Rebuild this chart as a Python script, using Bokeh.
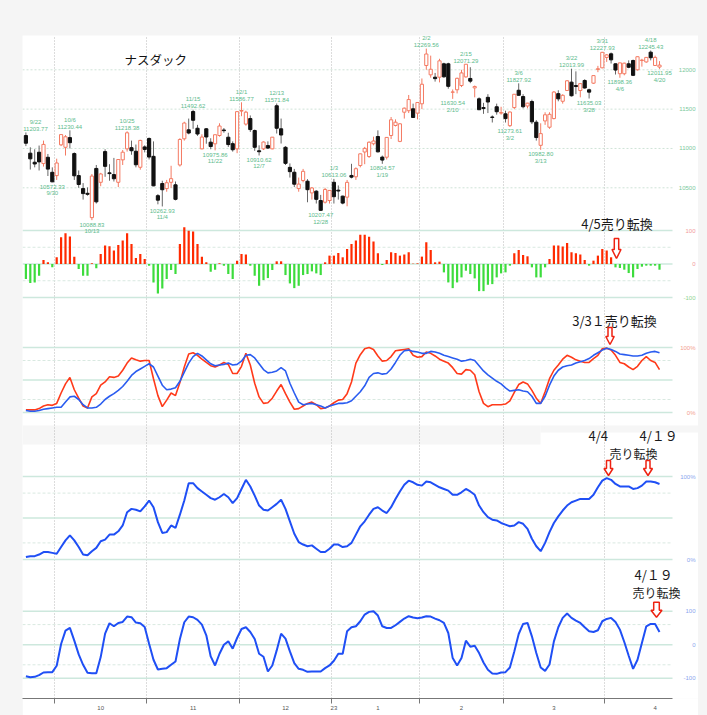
from bokeh.plotting import figure
from bokeh.models import Range1d, FixedTicker, BoxAnnotation, Spacer, ColumnDataSource
from bokeh.layouts import column, row
from bokeh.embed import file_html
from bokeh.resources import INLINE
from bokeh.core.properties import value

# ---------------- data (Nasdaq composite, daily, 2022-09-22 .. 2023-04-20) ----------------
opens = [11164, 10940, 10825, 10952, 10808, 10888, 10697,
         10655, 11046, 11015, 11138, 10935, 10655, 10490, 10430, 10121, 10746, 10570, 10960, 10690, 10668, 10570, 10855, 10995, 11010, 10965, 10761, 11020,
         11127, 10900, 10400, 10554, 10490, 10570, 10538, 10790, 11123, 11237, 11470, 11257, 10995, 11250, 11080, 11059, 11165, 11235, 11143, 11061, 10995,
         11475, 11310, 11380, 11228, 10970, 10995, 11037, 10995, 11543, 11250, 11015, 10760, 10698, 10490, 10593, 10584, 10435, 10457, 10338, 10317, 10338,
         10570, 10470, 10394, 10381, 10657, 10640, 10783, 10955, 10898, 11060, 11152, 10890, 10889, 11165, 11292, 11090, 11461, 11480, 11504, 11449,
         11568, 12055, 11936, 11906, 11906, 12076, 12076, 11715, 11746, 11800, 11910, 11890, 11770, 11631, 11520, 11650, 11400, 11530, 11450,
         11440, 11290, 11520, 11740, 11660, 11540, 11597, 11334, 11040, 11350, 11270, 11380, 11697, 11600, 11737, 11843, 11800, 11737, 11864, 11746, 11830, 12005, 12025,
         12157, 12203, 12076, 11950, 11950, 12076, 12118, 12000, 12118, 12100, 12224, 12055, 12035]
highs = [11203.77, 11015, 10990, 11037, 11100, 10930, 10760,
         10870, 11182, 11170, 11230.44, 10950, 10720, 10560, 10505, 10675, 10790, 10690, 10990, 10800, 10880, 10860, 10980, 11218.38, 11100, 11050, 11110, 11040,
         11140, 11090, 10420, 10590, 10600, 10780, 10580, 11130, 11340, 11380, 11492.62, 11300, 11180, 11260, 11130, 11175, 11320, 11260, 11200, 11090, 11470,
         11586.77, 11480, 11420, 11240, 11040, 11090, 11090, 11145, 11571.84, 11380, 11030, 10810, 10740, 10630, 10740, 10610, 10510, 10470, 10410, 10500, 10470,
         10613.06, 10530, 10400, 10600, 10805, 10760, 10935, 11020, 11090, 11150, 11230, 10910, 11145, 11400, 11370, 11320, 11520, 11680, 11570, 11590,
         11890, 12269.56, 12180, 11960, 12140, 12090, 12090, 11750, 11900, 12000, 12071.29, 12033, 11800, 11650, 11580, 11690, 11420, 11570, 11530,
         11480, 11470, 11690, 11827.92, 11690, 11580, 11620, 11360, 11320, 11460, 11460, 11730, 11740, 11690, 11870, 12013.99, 11980, 11830, 11880, 11760, 11930, 12050, 12227.93,
         12200, 12220, 12080, 12090, 12090, 12120, 12130, 12170, 12140, 12160, 12245.43, 12180, 12110]
lows = [11030, 10732, 10760, 10720, 10770, 10650, 10572.33,
        10600, 11030, 10910, 11000, 10600, 10500, 10350, 10400, 10088.83, 10300, 10520, 10640, 10590, 10580, 10510, 10790, 10960, 10920, 10760, 10730, 10950,
        10860, 10520, 10290, 10262.93, 10450, 10500, 10340, 10770, 11100, 11180, 11250, 11160, 10990, 11060, 10990, 10975.86, 11150, 11200, 11020, 10960, 10940,
        11410, 11290, 11210, 10970, 10910.62, 10980, 10995, 10990, 11190, 11063, 10790, 10630, 10510, 10450, 10570, 10316, 10350, 10300, 10207.47, 10300, 10300,
        10300, 10350, 10290, 10265, 10620, 10600, 10760, 10800, 10880, 11040, 10950, 10804.57, 10860, 11120, 11280, 11080, 11380, 11450, 11390, 11370,
        11500, 12000, 11900, 11850, 11840, 11900, 11760, 11630.54, 11700, 11780, 11900, 11830, 11650, 11490, 11440, 11450, 11330, 11430, 11430,
        11330, 11273.61, 11500, 11670, 11510, 11510, 11310, 11100, 10982.80, 11300, 11250, 11370, 11600, 11570, 11730, 11660, 11690, 11650, 11760, 11635.03, 11820, 11970, 12020,
        12100, 12080, 11940, 11898.36, 11930, 12020, 11920, 11990, 12040, 12090, 12120, 12050, 12011.95]
closes = [11066.81, 10867.93, 10802.92, 10829.50, 11051.64, 10737.51, 10575.62,
          10815.43, 11176.41, 11148.64, 11073.31, 10652.41, 10542.10, 10426.19, 10417.10, 10649.15, 10321.39, 10675.80, 10772.40, 10680.51, 10614.84, 10859.72, 10952.61, 11199.12, 10970.99, 10792.68, 11102.45, 10988.15,
          10890.85, 10524.80, 10342.94, 10475.25, 10564.52, 10616.20, 10353.17, 11114.15, 11323.33, 11196.22, 11358.41, 11183.66, 11144.96, 11146.06, 11024.51, 11174.41, 11285.32, 11226.36, 11049.50, 10983.78, 11468.00,
          11482.45, 11461.50, 11239.94, 11014.89, 10958.55, 11082.00, 11004.62, 11143.74, 11256.81, 11170.89, 10810.53, 10705.41, 10546.03, 10547.11, 10709.37, 10476.12, 10497.86, 10353.23, 10213.29, 10478.09, 10466.48,
          10386.98, 10458.76, 10305.24, 10569.29, 10635.65, 10742.63, 10931.67, 11001.10, 11079.16, 11095.11, 10957.01, 10852.27, 11140.43, 11364.41, 11334.27, 11313.36, 11512.41, 11621.71, 11393.81, 11584.55,
          11816.32, 12200.82, 12006.95, 11887.45, 12113.79, 11910.52, 11789.58, 11718.12, 11891.79, 11960.15, 12070.59, 11855.83, 11787.27, 11492.30, 11507.07, 11590.40, 11394.94, 11466.98, 11455.54,
          11379.48, 11462.98, 11689.01, 11675.74, 11530.33, 11576.00, 11338.36, 11138.89, 11188.84, 11428.15, 11434.05, 11717.28, 11630.51, 11675.54, 11860.11, 11669.96, 11787.40, 11823.96, 11768.84, 11716.08, 11926.24, 12013.47, 12221.91,
          12189.45, 12126.33, 11996.86, 12087.96, 12084.36, 12031.88, 11929.34, 12166.27, 12123.47, 12157.72, 12153.41, 12157.23, 12059.56]

hist = [-45, -57, -55, -35, 12, 5, -10, 20, 80, 92, 82, 22, -15, -35, -35, 2, -13, 30, 55, 53, 40, 57, 70, 92, 60, 18, 30, 15,
        -5, -55, -88, -73, -45, -18, -30, 60, 110, 99, 97, 60, 22, 5, -23, -17, 2, -5, -30, -45, 10,
        30, 28, -5, -35, -65, -48, -42, -18, 8, 8, -33, -58, -72, -65, -33, -30, -22, -28, -33, 5, 25,
        25, 33, 20, 45, 60, 70, 87, 87, 81, 67, 32, -3, 12, 35, 33, 25, 28, 35, 1, 2,
        22, 65, 42, 5, 7, -25, -55, -72, -55, -40, -20, -30, -43, -81, -81, -62, -60, -40, -28,
        -25, -5, 32, 42, 27, 23, -10, -40, -40, -10, 15, 55, 55, 52, 63, 35, 32, 28, 12, -5, 10, 25, 45,
        40, 20, -10, -12, -17, -27, -40, -15, -8, -5, -5, -5, -17]

fast_k = [4, 4, 4, 6, 10, 12, 11, 14, 30, 44, 54, 35, 22, 10, 7, 24, 29, 42, 47, 55, 54, 56, 65, 76, 84, 81, 79, 80,
          80, 52, 26, 9, 19, 30, 26, 46, 70, 90, 92, 88, 82, 77, 72, 70, 73, 77, 74, 60, 60,
          71, 91, 73, 45, 24, 14, 15, 22, 33, 43, 29, 16, 5, 6, 10, 14, 16, 12, 6, 7, 10,
          15, 19, 20, 29, 47, 76, 89, 98, 100, 97, 87, 79, 80, 86, 95, 96, 97, 98, 88, 85,
          86, 93, 91, 87, 82, 79, 76, 69, 60, 59, 66, 65, 58, 32, 14, 9, 12, 12, 12,
          13, 18, 31, 43, 47, 44, 34, 22, 14, 32, 52, 65, 73, 82, 88, 85, 81, 79, 77, 77, 83, 88, 98,
          99, 96, 88, 77, 75, 70, 66, 71, 80, 86, 80, 77, 66]
slow_d = [3, 2, 2, 3, 5, 6, 7, 8, 8, 16, 24, 25, 20, 12, 7, 7, 8, 13, 20, 25, 29, 34, 40, 48, 57, 63, 67, 71,
          75, 70, 56, 42, 35, 36, 38, 48, 62, 76, 86, 91, 87, 81, 75, 72, 73, 74, 76, 73, 74,
          79, 88, 89, 84, 75, 66, 61, 62, 64, 69, 64, 45, 30, 16, 12, 13, 14, 12, 10, 7, 10,
          12, 14, 14, 15, 18, 25, 32, 41, 54, 60, 61, 59, 60, 67, 77, 88, 95, 96, 94, 93,
          91, 91, 94, 93, 91, 88, 86, 84, 82, 79, 80, 82, 80, 72, 64, 58, 53, 48, 44,
          38, 33, 34, 35, 33, 32, 25, 14, 14, 25, 42, 56, 65, 70, 72, 73, 76, 78, 80, 83, 88, 92, 96,
          99, 97, 94, 90, 89, 88, 87, 87, 88, 91, 93, 94, 92]
line4 = [3, 4, 4, 6, 9, 9, 8, 7, 15, 23, 29, 23, 15, 6, 5, 10, 14, 22, 24, 30, 30, 34, 41, 57, 61, 60, 58, 64,
         71, 63, 45, 32, 33, 41, 38, 54, 71, 92, 92, 86, 82, 78, 74, 72, 75, 79, 75, 68, 74,
         85, 96, 88, 77, 65, 60, 59, 63, 67, 72, 61, 46, 31, 21, 18, 16, 17, 13, 9, 9, 13,
         18, 18, 15, 16, 20, 30, 40, 46, 54, 61, 63, 59, 56, 63, 73, 82, 90, 95, 93, 90,
         89, 94, 93, 90, 87, 85, 83, 78, 78, 81, 85, 82, 78, 65, 57, 51, 48, 47, 44,
         42, 40, 41, 45, 43, 37, 25, 16, 10, 20, 33, 44, 52, 59, 65, 69, 71, 73, 73, 73, 78, 87, 95,
         98, 96, 91, 88, 88, 88, 85, 86, 89, 94, 94, 93, 91]
line5 = [-94, -97, -96, -91, -83, -82, -82, -63, 2, 42, 50, 12, -29, -60, -84, -85, -85, -37, 33, 64, 55, 65, 68, 84, 82, 66, 64, 53,
         3, -45, -74, -72, -70, -60, -50, 17, 67, 84, 82, 74, 60, 28, -35, -62, -27, 0, 10, -12, 20,
         47, 52, 38, 17, -27, -36, -80, -62, -17, 33, 18, -20, -55, -72, -75, -81, -80, -80, -80, -70, -62,
         -48, -27, -27, 40, 52, 55, 70, 90, 98, 100, 87, 55, 50, 50, 58, 68, 78, 85, 81, 79,
         81, 85, 84, 78, 73, 65, 35, -40, -62, -40, 12, -6, -3, -25, -53, -75, -86, -87, -83,
         -82, -68, -20, 32, 62, 65, 25, -25, -68, -78, -59, 10, 52, 80, 93, 80, 72, 65, 52, 40, 38, 43, 70,
         77, 80, 68, 45, 8, -33, -72, -45, 5, 55, 62, 62, 38]

# month boundaries / labels (in trading-day index)
month_bounds = [6.5, 27.5, 48.5, 69.5, 89.5, 108.5, 131.5]
month_label_pos = [17, 38, 59, 70, 80, 99, 120, 143]
month_labels = ["10", "11", "12", "23", "1", "2", "3", "4"]

# high / low annotations on the candles
hi_dates = ["9/22", "10/6", "10/25", "11/15", "12/1", "12/13", "1/3", "2/2", "2/15", "3/6", "3/22", "3/31", "4/18"]
hi_idx = [0, 10, 23, 38, 49, 57, 70, 91, 100, 112, 124, 131, 142]
lo_dates = ["9/30", "10/13", "11/4", "11/22", "12/7", "12/28", "1/19", "2/10", "3/2", "3/13", "3/28", "4/6", "4/20"]
lo_idx = [6, 15, 31, 43, 53, 67, 81, 97, 110, 117, 128, 135, 144]

price_ticks = [12000, 11500, 11000, 10500]
hist_ticks = [100, 0, -100]
pct_ticks = [100, 0]
r_ticks = [100, 0, -100]

# ---------------- layout (page pixels) ----------------
PAGE_W, PAGE_H = 707, 715
LEFT_PAD, TOP_PAD = 22, 35
FIG_W = 676
FIG_H = PAGE_H - TOP_PAD
BOTTOM_BORDER = 17
FRAME_TOP = TOP_PAD
FRAME_BOTTOM = PAGE_H - BOTTOM_BORDER
X0_PX, DAY_PX = 25.4, 4.4
GRID_RIGHT_PX = 672
LABEL_RIGHT_PX = 695
LABEL_HALF_W = 13

def xd(px):
    return (px - X0_PX) / DAY_PX

# value <-> page pixel calibration for every panel
calib = {
    "price": (12000, 69.3, 10500, 187.3),
    "hist": (100, 230.0, -100, 297.0),
    "k": (100, 347.0, 0, 412.0),
    "d": (100, 476.0, 0, 559.0),
    "r": (100, 610.7, -100, 677.7),
}
ranges = {}
for name, (va, pa, vb, pb) in calib.items():
    s = (pb - pa) / (va - vb)
    start = vb - (FRAME_BOTTOM - pb) / s
    end = start + (FRAME_BOTTOM - FRAME_TOP) / s
    ranges[name] = Range1d(start, end)

def yd(name, px):
    r = ranges[name]
    return r.start + (FRAME_BOTTOM - px) * (r.end - r.start) / (FRAME_BOTTOM - FRAME_TOP)

def rn(name):
    return {} if name == "price" else {"y_range_name": name}

n = len(closes)
idx = list(range(n))

p = figure(width=FIG_W, height=FIG_H,
           x_range=Range1d(xd(LEFT_PAD), xd(LEFT_PAD + FIG_W)),
           y_range=ranges["price"], y_axis_location=None,
           output_backend="svg", toolbar_location=None,
           min_border_left=0, min_border_right=0, min_border_top=0,
           min_border_bottom=BOTTOM_BORDER)
p.extra_y_ranges = {k: ranges[k] for k in ("hist", "k", "d", "r")}
p.outline_line_color = None
p.background_fill_color = "white"
p.border_fill_color = "white"
p.ygrid.visible = False
p.xgrid.ticker = FixedTicker(ticks=month_bounds)
p.xgrid.grid_line_color = "#b8b8b8"
p.xgrid.grid_line_dash = "1 2"
p.xgrid.grid_line_width = 1

# light gray gap band above the 4th panel
p.add_layout(BoxAnnotation(top=yd("d", 425), bottom=yd("d", 444), right=xd(540), y_range_name="d",
                           fill_color="#f6f6f6", fill_alpha=1, line_color=None, level="image"))
p.add_layout(BoxAnnotation(top=yd("d", 425), bottom=yd("d", 432), left=xd(540), y_range_name="d",
                           fill_color="#f6f6f6", fill_alpha=1, line_color=None, level="image"))

SOLID = "#cde8dd"
DASH = "#d9e9e1"

def hlines(levels, name, color, width, dash):
    m = len(levels)
    p.segment(x0=[xd(LEFT_PAD)] * m, x1=[xd(GRID_RIGHT_PX)] * m, y0=levels, y1=levels,
              line_color=color, line_width=width, line_dash=dash, **rn(name))

hlines(price_ticks, "price", "#cfe3d7", 1, "2 2")
hlines([100, 0, -100], "hist", SOLID, 1.6, "solid")
hlines([50, -50], "hist", DASH, 1, "3 2")
hlines([100, 50, 0], "k", SOLID, 1.6, "solid")
hlines([80, 20], "k", DASH, 1, "3 2")
hlines([100, 50, 0], "d", SOLID, 1.6, "solid")
hlines([80, 20], "d", DASH, 1, "3 2")
hlines([100, 0, -100], "r", SOLID, 1.6, "solid")
hlines([60, -60], "r", DASH, 1, "3 2")

# ---------------- candles ----------------
UP = "#f47a62"
up = [c >= o for o, c in zip(opens, closes)]
src = ColumnDataSource(dict(
    x=idx, h=highs, l=lows,
    bt=[max(o, c) for o, c in zip(opens, closes)],
    bb=[min(o, c) for o, c in zip(opens, closes)],
    fill=["white" if u else "#111111" for u in up],
    line=[UP if u else "#111111" for u in up],
    wick=[UP if u else "#666666" for u in up],
))
p.segment(x0="x", y0="l", x1="x", y1="h", line_color="wick", line_width=1, source=src)
p.vbar(x="x", width=0.72, top="bt", bottom="bb", fill_color="fill", line_color="line",
       line_width=1, source=src)

LBL = "#5dbb8c"
lbl_kw = dict(text_align="center", text_baseline="middle", text_font=value("Liberation Sans"),
              text_font_size="6px", text_color=LBL)

def keep_in(i):
    # shift a label right just enough to stay inside the plot's left edge
    return max(0.0, LEFT_PAD + LABEL_HALF_W - (X0_PX + DAY_PX * i))

hsrc = ColumnDataSource(dict(
    x=hi_idx, y=[highs[i] for i in hi_idx], d=hi_dates,
    v=["%.2f" % highs[i] for i in hi_idx], xo=[keep_in(i) for i in hi_idx]))
lsrc = ColumnDataSource(dict(
    x=lo_idx, y=[lows[i] for i in lo_idx], d=lo_dates,
    v=["%.2f" % lows[i] for i in lo_idx], xo=[keep_in(i) for i in lo_idx]))
p.text(x="x", y="y", text="d", x_offset="xo", y_offset=-10.5, source=hsrc, **lbl_kw)
p.text(x="x", y="y", text="v", x_offset="xo", y_offset=-3.5, source=hsrc, **lbl_kw)
p.text(x="x", y="y", text="v", x_offset="xo", y_offset=4.5, source=lsrc, **lbl_kw)
p.text(x="x", y="y", text="d", x_offset="xo", y_offset=11, source=lsrc, **lbl_kw)

# ---------------- histogram ----------------
p.vbar(x=idx, width=0.5, top=hist, bottom=0,
       fill_color=["#ff2a00" if v >= 0 else "#3ddc3d" for v in hist], line_color=None,
       y_range_name="hist")

# ---------------- oscillator lines ----------------
p.line(idx, fast_k, line_color="#ff3a1a", line_width=1.6, y_range_name="k")
p.line(idx, slow_d, line_color="#2a5cf0", line_width=1.6, y_range_name="k")
p.line(idx, line4, line_color="#1f4ff5", line_width=2, y_range_name="d")
p.line(idx, line5, line_color="#1f4ff5", line_width=2, y_range_name="r")

# ---------------- right-hand scale labels ----------------
def right_labels(levels, texts, name, colors):
    m = len(levels)
    p.text(x=[xd(LABEL_RIGHT_PX)] * m, y=levels, text=texts, text_align="right",
           text_baseline="middle", text_font=value("Liberation Sans"), text_font_size="6px",
           text_color=colors, **rn(name))

right_labels(price_ticks, [str(v) for v in price_ticks], "price", ["#7cc99c"] * 4)
right_labels(hist_ticks, [str(v) for v in hist_ticks], "hist", ["#f29a9a", "#f29a9a", "#8fd48f"])
right_labels(pct_ticks, ["%d%%" % v for v in pct_ticks], "k", ["#f3a08f"] * 2)
right_labels(pct_ticks, ["%d%%" % v for v in pct_ticks], "d", ["#8ba6ee"] * 2)
right_labels(r_ticks, [str(v) for v in r_ticks], "r", ["#8ba6ee"] * 3)

# ---------------- bottom month axis ----------------
ax = p.xaxis[0]
ax.ticker = FixedTicker(ticks=month_label_pos, minor_ticks=month_bounds)
ax.major_label_overrides = {pos: lab for pos, lab in zip(month_label_pos, month_labels)}
ax.bounds = (xd(LEFT_PAD), xd(GRID_RIGHT_PX))
ax.axis_line_color = "#777777"
ax.major_tick_line_color = None
ax.major_tick_out = 0
ax.major_tick_in = 0
ax.minor_tick_line_color = "#777777"
ax.minor_tick_in = 0
ax.minor_tick_out = 5
ax.major_label_text_font = "Liberation Sans"
ax.major_label_text_font_size = "6px"
ax.major_label_text_color = "#555555"
ax.major_label_standoff = 2

# ---------------- titles & annotations ----------------
jp = value("Noto Sans CJK JP")
p.text(x=[xd(124)], y=[yd("price", 59)], text=["ナスダック"], text_align="left",
       text_baseline="middle", text_font=jp, text_font_size="12.5px", text_color="#111111")

notes = [("4/5売り転換", 580.7, 223.0, "13px"),
         ("3/3１売り転換", 571.7, 319.5, "13px"),
         ("4/4", 588.0, 435.0, "13px"),
         ("4/１９", 639.0, 435.0, "13px"),
         ("売り転換", 609.0, 453.0, "12px"),
         ("4/１９", 634.0, 574.0, "13px"),
         ("売り転換", 632.0, 591.7, "12px")]
for t, xp, yp, fs in notes:
    p.text(x=[xd(xp)], y=[yd("price", yp)], text=[t], text_align="left", text_baseline="middle",
           text_font=jp, text_font_size=fs, text_color="#1a1a1a")

# hollow red down-arrows (tip x px, tip y px, total h, head h, head half w, shaft half w)
arrows = [(616.0, 258.0, 20, 9, 4.5, 2.2),
          (609.5, 344.0, 17, 8, 4.2, 2.0),
          (608.0, 475.0, 15, 7, 4.5, 2.0),
          (647.5, 475.0, 15, 7, 4.5, 2.0),
          (656.0, 616.7, 15, 7, 5.5, 2.8)]
axs, ays = [], []
for tx, ty, H, hh, hw, sw in arrows:
    shape = [(0, 0), (hw, hh), (sw, hh), (sw, H), (-sw, H), (-sw, hh), (-hw, hh)]
    axs.append([xd(tx + dx) for dx, dy in shape])
    ays.append([yd("price", ty - dy) for dx, dy in shape])
p.patches(axs, ays, fill_color="white", line_color="#ee2211", line_width=1.5)

layout = column(Spacer(width=PAGE_W, height=TOP_PAD),
                row(Spacer(width=LEFT_PAD, height=FIG_H), p),
                styles={"background-color": "#f5f5f5"})

open("out.html", "w").write(file_html(layout, INLINE))
